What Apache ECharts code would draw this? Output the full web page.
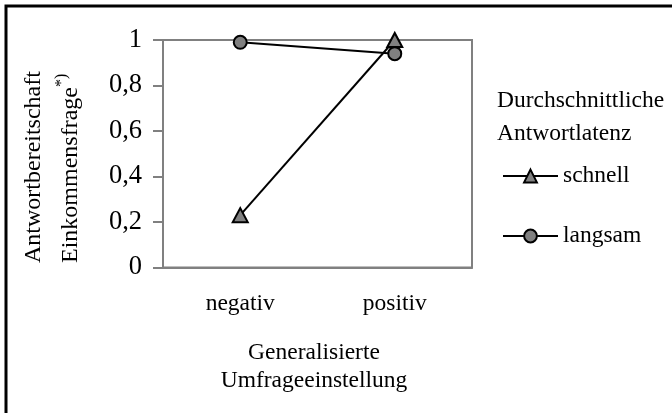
<!DOCTYPE html>
<html>
<head>
<meta charset="utf-8">
<script src="https://cdn.jsdelivr.net/npm/echarts@6/dist/echarts.min.js"></script>
<style>
html,body{margin:0;padding:0;background:#fff;}
#chart{width:672px;height:413px;}
</style>
</head>
<body>
<div id="chart"></div>
<script>
var categories = ['negativ', 'positiv'];
var seriesNames = ['schnell', 'langsam'];
var schnellValues = [0.23, 1.0];
var langsamValues = [0.99, 0.94];
var yTicks = [0, 0.2, 0.4, 0.6, 0.8, 1];
var legendTitle = ['Durchschnittliche', 'Antwortlatenz'];
var xAxisTitle = ['Generalisierte', 'Umfrageeinstellung'];
var yAxisTitle = ['Antwortbereitschaft', 'Einkommensfrage', '*)'];

var FONT = 'Liberation Serif';
var chart = echarts.init(document.getElementById('chart'), null, {renderer: 'canvas'});

var option = {
  backgroundColor: '#ffffff',
  animation: false,
  textStyle: {fontFamily: FONT, color: '#000'},
  grid: {
    left: 163, top: 40, width: 309, height: 227.5,
    show: true, borderColor: '#808080', borderWidth: 2, backgroundColor: 'transparent'
  },
  xAxis: {
    type: 'category',
    data: categories,
    boundaryGap: true,
    axisLine: {lineStyle: {color: '#808080', width: 2}},
    axisTick: {show: false},
    axisLabel: {fontFamily: FONT, fontSize: 23.5, color: '#000', margin: 24}
  },
  yAxis: {
    type: 'value',
    min: 0, max: 1, interval: 0.2,
    axisLine: {show: true, lineStyle: {color: '#808080', width: 2}},
    axisTick: {show: true, length: 10, lineStyle: {color: '#808080', width: 2}},
    splitLine: {show: false},
    axisLabel: {
      fontFamily: FONT, fontSize: 26.5, color: '#000', margin: 21,
      formatter: function (v) {
        var t = yTicks.filter(function (x) { return Math.abs(x - v) < 1e-9; });
        return t.length ? String(Math.round(v * 10) / 10).replace('.', ',') : '';
      }
    }
  },
  legend: {
    orient: 'vertical',
    left: 502, top: 164,
    padding: 0,
    itemWidth: 55, itemHeight: 16,
    itemGap: 36,
    textStyle: {fontFamily: FONT, fontSize: 23.5, color: '#000'},
    data: seriesNames
  },
  series: [
    {
      name: seriesNames[0], type: 'line', data: schnellValues,
      symbol: 'triangle', symbolSize: [15, 14],
      lineStyle: {color: '#000', width: 2},
      itemStyle: {color: '#808080', borderColor: '#000', borderWidth: 2}
    },
    {
      name: seriesNames[1], type: 'line', data: langsamValues,
      symbol: 'circle', symbolSize: 13,
      lineStyle: {color: '#000', width: 2},
      itemStyle: {color: '#808080', borderColor: '#000', borderWidth: 2}
    }
  ],
  graphic: [
    {
      type: 'rect', silent: true, z: 100,
      shape: {x: 6, y: 6, width: 700, height: 450},
      style: {fill: 'none', stroke: '#000', lineWidth: 3}
    },
    {
      type: 'text', left: 497, top: 84, silent: true,
      style: {text: legendTitle.join('\n'), font: '23.5px "' + FONT + '"', fill: '#000', lineHeight: 33, textAlign: 'left'}
    },
    {
      type: 'text', x: 314, y: 339, silent: true,
      style: {text: xAxisTitle.join('\n'), font: '23.5px "' + FONT + '"', fill: '#000', lineHeight: 28, textAlign: 'center', textVerticalAlign: 'top'}
    },
    {
      type: 'text', x: 34, y: 263, rotation: Math.PI / 2, silent: true,
      style: {text: yAxisTitle[0], font: '24px "' + FONT + '"', fill: '#000', textAlign: 'left', textVerticalAlign: 'middle'}
    },
    {
      type: 'text', x: 71, y: 263, rotation: Math.PI / 2, silent: true,
      style: {text: yAxisTitle[1], font: '24px "' + FONT + '"', fill: '#000', textAlign: 'left', textVerticalAlign: 'middle'}
    },
    {
      type: 'text', x: 62, y: 87, rotation: Math.PI / 2, silent: true,
      style: {text: yAxisTitle[2], font: '16px "' + FONT + '"', fill: '#000', textAlign: 'left', textVerticalAlign: 'middle'}
    }
  ]
};
chart.setOption(option);
</script>
</body>
</html>
